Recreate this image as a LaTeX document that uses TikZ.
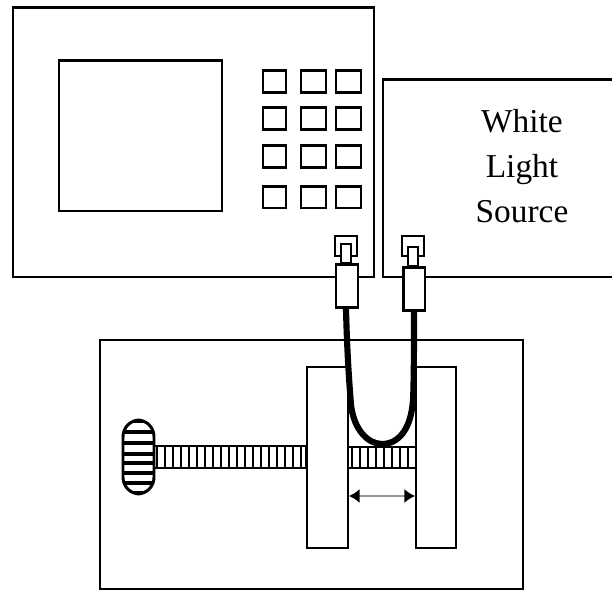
\documentclass[tikz,border=0pt]{standalone}
\usepackage{fontspec}
\setmainfont{Liberation Serif}
\usetikzlibrary{arrows.meta}

\begin{document}
\begin{tikzpicture}[
    x=0.02cm, y=-0.02cm,
    box/.style={draw=black, line width=1.7pt, fill=white},
    btn/.style={draw=black, line width=1.7pt, fill=white},
    tick/.style={black, line width=1.4pt},
    fibre/.style={black, line width=3.5pt, line cap=butt},
    gap/.style={draw=black!40, line width=1pt, {Latex[black, length=6pt, width=8pt]}-{Latex[black, length=6pt, width=8pt]}},
    lbl/.style={font=\fontsize{19}{25.5}\selectfont, align=center},
]
\useasboundingbox (0, 0) rectangle (612, 590);

% Instrument
\draw[box] (13, 8) rectangle (374, 277);
\draw[box] (59, 61) rectangle (222, 211);
\foreach \y/\h in {71/93, 108/130, 146/168, 187/208} {
    \foreach \x/\w in {263/286, 301/326, 336/361} {
        \draw[btn] (\x, \y) rectangle (\w, \h);
    }
}

% Light source, runs off the right edge
\draw[box] (612, 80) -- (383, 80) -- (383, 277) -- (612, 277);
\node[lbl] (source) at (522, 166) {White\\Light\\Source};

% Base plate
\draw[box] (100, 340) rectangle (523, 589);

% Screw
\draw[box] (153, 446) rectangle (306, 468);
\foreach \x in {157, 165, ..., 301} {
    \draw[tick] (\x, 446) -- (\x, 468);
}
\draw[box] (348, 447) rectangle (416, 468);
\foreach \x in {352, 360, ..., 408} {
    \draw[tick] (\x, 447) -- (\x, 468);
}

% Knob
\begin{scope}
    \clip[rounded corners=9.5pt] (123, 420) rectangle (154, 494);
    \fill[white] (123, 420) rectangle (154, 494);
    \foreach \y in {421, 432, 443, 454, 463, 473, 483, 493} {
        \draw[black, line width=2.3pt] (120, \y) -- (157, \y);
    }
\end{scope}
\draw[black, line width=1.7pt, rounded corners=9.5pt] (123, 420) rectangle (154, 494);

% Clamp blocks
\draw[box] (307, 367) rectangle (348, 548);
\draw[box] (416, 367) rectangle (456, 548);

% Gap arrow
\coordinate (gapL) at (349, 496);
\coordinate (gapR) at (415, 496);
\draw[gap] (gapL) -- (gapR);

% Connectors
\foreach \name/\cx/\cy in {portL/346/0, portR/413/3} {
    \draw[btn] (\cx-11, 236) rectangle (\cx+11, 256);
    \draw[btn] (\cx-5, 244+\cy) rectangle (\cx+5, 263+\cy);
    \node[box, minimum width=0.44cm, minimum height=0.86cm, inner sep=0pt, anchor=north] (\name) at (\cx+1, 263+\cy) {};
}

% Fibre
\draw[fibre] (portL.south) ++(-1, 0) .. controls (347, 350) and (349, 380) .. (351, 405)
    .. controls (354, 430) and (368, 444) .. (382, 444)
    .. controls (398, 444) and (411, 430) .. (413, 400)
    .. controls (414, 380) and (414, 340) .. (portR.south);

\end{tikzpicture}
\end{document}
